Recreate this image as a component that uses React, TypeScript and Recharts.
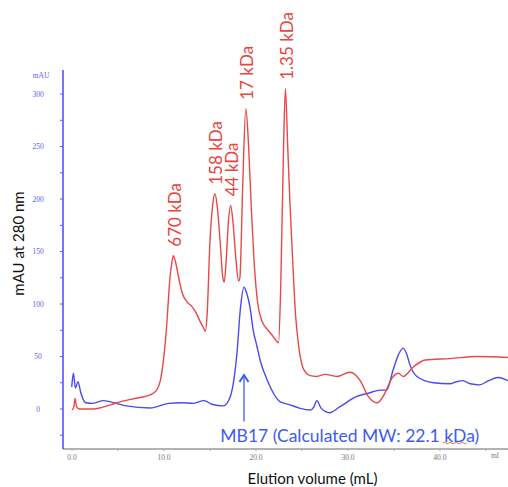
import React from "react";
import { LineChart, Line, XAxis, YAxis, ReferenceDot, ReferenceLine } from "recharts";

// Red trace: standards (elution volume mL, absorbance mAU)
const standardVolume = [0.0, 0.2, 0.33, 0.5, 0.8, 2.3, 4.2, 5.3, 7.1, 8.5, 9.2, 9.6, 9.95, 10.3, 10.5, 10.65, 10.85, 11.0, 11.2, 11.6, 12.0, 12.5, 13.0, 13.4, 13.9, 14.25, 14.5, 14.7, 15.0, 15.3, 15.54, 15.8, 16.1, 16.4, 16.55, 16.75, 17.0, 17.25, 17.5, 17.8, 18.1, 18.25, 18.55, 18.9, 19.2, 19.5, 19.8, 20.2, 20.6, 21.2, 21.7, 22.2, 22.45, 22.7, 23.0, 23.2, 23.45, 23.7, 24.0, 24.3, 24.6, 25.0, 25.3, 25.8, 26.6, 27.5, 28.8, 30.2, 30.6, 31.3, 32.2, 33.2, 33.8, 34.9, 35.5, 36.0, 37.1, 38.4, 41.1, 44.0, 47.4];
const standardAbs = [-1, 2, 10, 2, 0, 0, 4, 7, 10.5, 13.5, 18, 27, 47, 80, 107, 125, 139, 146, 142, 125, 110, 102, 98, 93, 84, 78, 74, 92, 160, 195, 205, 192, 160, 125, 121, 140, 178, 194, 178, 145, 122, 125, 210, 286, 250, 190, 140, 100, 85, 76, 71, 65, 63, 120, 250, 305, 250, 195, 140, 90, 63, 42, 36, 32, 31, 33, 31, 35, 34, 27.6, 12, 6, 11.7, 30.8, 34, 31, 40, 46.7, 48, 50, 49];

// Blue trace: MB17
const sampleVolume = [-0.03, 0.15, 0.37, 0.65, 0.97, 1.5, 2.3, 3.4, 4.8, 5.9, 8.5, 10.5, 11.9, 13.2, 14.35, 15.2, 16.45, 17.2, 17.6, 17.95, 18.3, 18.7, 19.0, 19.35, 19.7, 20.1, 20.5, 21.2, 21.9, 22.6, 23.7, 24.8, 25.9, 26.3, 26.6, 27.1, 28.0, 29.1, 30.9, 32.4, 33.5, 34.2, 34.9, 35.5, 36.0, 36.4, 36.7, 37.5, 39.3, 41.1, 41.8, 42.5, 43.3, 44.3, 45.3, 46.3, 47.4];
const sampleAbs = [21, 34, 20, 26, 15, 6, 5.4, 8, 5.4, 3, 1, 5.4, 6, 5.4, 8, 4.5, 3, 11.7, 28, 55, 95, 116, 110, 97, 75, 60, 45, 28, 15, 7, 4, 0.6, -1, 2, 8, 0.6, -3.5, 2, 11.7, 15.5, 18, 18, 37, 52, 58, 52, 43, 31, 25, 24, 26, 27, 24, 23, 27, 30, 27];

// Peak labels for the standards
const peakLabels = ["670 kDa", "158 kDa", "44 kDa", "17 kDa", "1.35 kDa"];
const peakVolume = [11.0, 15.54, 17.25, 18.9, 23.2];
const peakAbs = [146, 205, 194, 286, 305];

const xTicks = [0, 5, 10, 15, 20, 25, 30, 35, 40, 45];
const yTicks = [-25, 0, 25, 50, 75, 100, 125, 150, 175, 200, 225, 250, 275, 300];

const sampleLabel = "MB17 (Calculated MW: 22.1 kDa)";
const arrowVolume = 18.7;
const arrowBottom = -12;
const arrowTop = 32.4;
const sampleLabelPos = { x: 30.2, y: -24.8 };

const standardData = standardVolume.map((v, i) => ({ v, a: standardAbs[i] }));
const sampleData = sampleVolume.map((v, i) => ({ v, a: sampleAbs[i] }));

const RED = "#e8453e";
const BLUE = "#4a4af0";
const SANS = "Lato, 'Open Sans', sans-serif";
const SERIF = "'Liberation Serif', 'DejaVu Serif', serif";

const YTick = (props: any) => {
  const { x, y, payload } = props;
  const v = payload.value;
  if (v < 0 || v % 50 !== 0) return null;
  return (
    <text x={x - 20} y={y} textAnchor="middle" dominantBaseline="central" fontFamily={SERIF} fontSize={7.5} fill="#5c5cf2">
      {String(v)}
    </text>
  );
};

const XTick = (props: any) => {
  const { x, y, payload } = props;
  const v = payload.value;
  if (v % 10 !== 0) return null;
  return (
    <text x={x} y={y + 4} textAnchor="middle" dominantBaseline="central" fontFamily={SERIF} fontSize={7.5} fill="#777">
      {v.toFixed(1)}
    </text>
  );
};

const YLabel = (props: any) => {
  const vb = props.viewBox || {};
  const cx = vb.x + 18;
  const cy = vb.y + vb.height / 2 - 16;
  return (
    <g>
      <text x={cx} y={cy} transform={`rotate(-90, ${cx}, ${cy})`} textAnchor="middle" dominantBaseline="central" fontFamily={SANS} fontSize={15} fill="#111">
        mAU at 280 nm
      </text>
      <text x={vb.x + 41} y={vb.y + 5} textAnchor="middle" dominantBaseline="central" fontFamily={SERIF} fontSize={7.5} fill="#5c5cf2">
        mAU
      </text>
    </g>
  );
};

const XLabel = (props: any) => {
  const vb = props.viewBox || {};
  return (
    <g>
      <text x={vb.x + vb.width / 2 + 27} y={vb.y + 29} textAnchor="middle" dominantBaseline="central" fontFamily={SANS} fontSize={15} fill="#111">
        Elution volume (mL)
      </text>
      <text x={vb.x + 432} y={vb.y + 6} textAnchor="middle" dominantBaseline="central" fontFamily={SERIF} fontSize={7.5} fill="#777">
        ml
      </text>
    </g>
  );
};

const makePeakShape = (label: string) => (props: any) => {
  const { cx, cy } = props;
  const x = cx + 1;
  const y = cy - 9;
  return (
    <text x={x} y={y} transform={`rotate(-90, ${x}, ${y})`} textAnchor="start" dominantBaseline="central" fontFamily={SANS} fontSize={17} fill={RED}>
      {label}
    </text>
  );
};

const ArrowHead = (props: any) => {
  const { cx, cy } = props;
  return <path d={`M${cx - 4.5},${cy + 7} L${cx},${cy} L${cx + 4.5},${cy + 7}`} fill="none" stroke="#3c5cf0" strokeWidth={2} />;
};

const SampleText = (props: any) => {
  const { cx, cy } = props;
  return (
    <g>
      <text x={cx} y={cy} textAnchor="middle" dominantBaseline="central" fontFamily={SANS} fontSize={17.5} fill="#3c5cf0">
        {sampleLabel}
      </text>
      <path
        d={`M${cx + 93},${cy + 8} q1.5,-1.5 3,0 t3,0 t3,0 t3,0 t3,0 t3,0 t3,0 t3,0`}
        fill="none"
        stroke="#e04040"
        strokeWidth={0.8}
      />
    </g>
  );
};

export default function App() {
  return (
    <div style={{ position: "absolute", left: 0, top: 0, width: 508, height: 487, background: "#fff" }}>
      <LineChart width={508} height={487} margin={{ top: 70, right: 0, bottom: 0, left: 0 }} style={{ fontFamily: SANS }}>
        <XAxis
          dataKey="v"
          type="number"
          domain={[-0.98, 47.4]}
          ticks={xTicks}
          allowDataOverflow
          height={38}
          tick={<XTick />}
          tickSize={2}
          tickLine={{ stroke: "#aaa" }}
          axisLine={{ stroke: "#9a9a9a", strokeWidth: 1.5 }}
          label={<XLabel />}
        />
        <YAxis
          dataKey="a"
          type="number"
          domain={[-38.1, 322.9]}
          ticks={yTicks}
          allowDataOverflow
          width={63}
          tick={<YTick />}
          tickSize={3}
          tickLine={{ stroke: "#5c5cf2" }}
          axisLine={{ stroke: "#4a4af0", strokeWidth: 1.5 }}
          label={<YLabel />}
        />
        <Line data={sampleData} dataKey="a" type="monotone" stroke={BLUE} strokeWidth={1.4} dot={false} isAnimationActive={false} />
        <Line data={standardData} dataKey="a" type="monotone" stroke="#e84848" strokeWidth={1.4} dot={false} isAnimationActive={false} />
        {peakLabels.map((label, i) => (
          <ReferenceDot key={label} x={peakVolume[i]} y={peakAbs[i]} r={0} shape={makePeakShape(label)} />
        ))}
        <ReferenceLine
          segment={[
            { x: arrowVolume, y: arrowBottom },
            { x: arrowVolume, y: arrowTop - 1 },
          ]}
          stroke="#3c5cf0"
          strokeWidth={1.3}
        />
        <ReferenceDot x={arrowVolume} y={arrowTop} r={0} shape={<ArrowHead />} />
        <ReferenceDot x={sampleLabelPos.x} y={sampleLabelPos.y} r={0} shape={<SampleText />} />
      </LineChart>
    </div>
  );
}
